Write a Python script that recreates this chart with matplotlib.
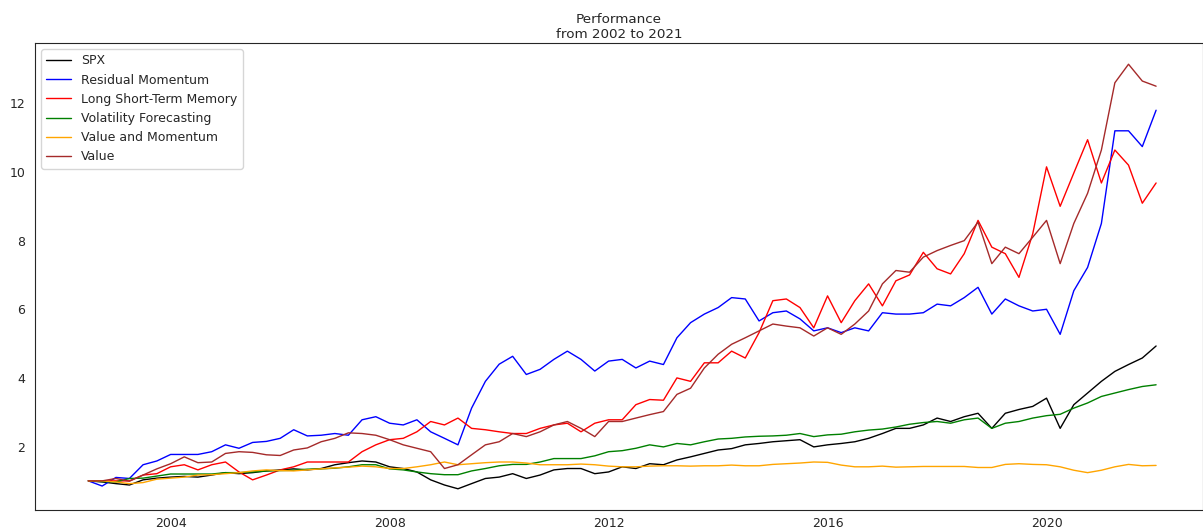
import matplotlib
matplotlib.use("Agg")
import matplotlib.pyplot as plt
import seaborn as sns
import pandas as pd

sns.set_style("white")
plt.rcParams["font.size"] = 9

dates = pd.date_range("2002-07-01", "2022-01-01", freq="QS")

spx = [1.00, 0.97, 0.92, 0.88, 1.03, 1.08, 1.11, 1.13, 1.11, 1.17,
       1.24, 1.21, 1.24, 1.29, 1.32, 1.35, 1.32, 1.36, 1.47, 1.53,
       1.58, 1.55, 1.41, 1.36, 1.26, 1.03, 0.88, 0.77, 0.92, 1.07,
       1.11, 1.21, 1.07, 1.17, 1.32, 1.36, 1.36, 1.21, 1.26, 1.41,
       1.36, 1.50, 1.47, 1.61, 1.70, 1.80, 1.90, 1.94, 2.05, 2.09,
       2.14, 2.17, 2.20, 1.99, 2.05, 2.09, 2.14, 2.24, 2.38, 2.53,
       2.53, 2.63, 2.83, 2.73, 2.87, 2.97, 2.53, 2.97, 3.08, 3.17,
       3.41, 2.53, 3.22, 3.56, 3.90, 4.19, 4.39, 4.58, 4.93]

residual_momentum = [1.00, 0.85, 1.10, 1.07, 1.47, 1.58, 1.77, 1.77, 1.77, 1.85,
                     2.05, 1.95, 2.12, 2.15, 2.24, 2.49, 2.31, 2.33, 2.38, 2.33,
                     2.78, 2.87, 2.68, 2.63, 2.78, 2.43, 2.24, 2.05, 3.12, 3.90,
                     4.40, 4.63, 4.10, 4.25, 4.54, 4.78, 4.54, 4.20, 4.49, 4.54,
                     4.29, 4.49, 4.39, 5.17, 5.61, 5.86, 6.05, 6.34, 6.30, 5.66,
                     5.90, 5.95, 5.72, 5.37, 5.46, 5.32, 5.46, 5.37, 5.90, 5.86,
                     5.86, 5.90, 6.15, 6.10, 6.34, 6.64, 5.86, 6.30, 6.10, 5.95,
                     6.00, 5.27, 6.54, 7.22, 8.50, 11.20, 11.20, 10.74, 11.80]

lstm = [1.00, 1.00, 1.00, 1.00, 1.17, 1.21, 1.41, 1.47, 1.32, 1.47,
        1.55, 1.26, 1.03, 1.17, 1.32, 1.41, 1.55, 1.55, 1.55, 1.55,
        1.85, 2.05, 2.20, 2.24, 2.43, 2.73, 2.63, 2.83, 2.53, 2.49,
        2.43, 2.38, 2.38, 2.53, 2.63, 2.68, 2.43, 2.68, 2.78, 2.78,
        3.22, 3.37, 3.35, 4.00, 3.90, 4.44, 4.44, 4.78, 4.58, 5.32,
        6.25, 6.30, 6.05, 5.46, 6.39, 5.61, 6.25, 6.74, 6.10, 6.83,
        7.00, 7.66, 7.18, 7.03, 7.62, 8.59, 7.81, 7.62, 6.93, 8.20,
        10.15, 9.00, 9.97, 10.94, 9.68, 10.64, 10.20, 9.09, 9.68]

vol_forecasting = [1.00, 0.98, 0.97, 1.07, 1.08, 1.14, 1.20, 1.20, 1.20, 1.20,
                   1.24, 1.24, 1.26, 1.29, 1.30, 1.31, 1.34, 1.35, 1.37, 1.41,
                   1.47, 1.47, 1.35, 1.32, 1.26, 1.21, 1.18, 1.18, 1.29, 1.36,
                   1.44, 1.48, 1.48, 1.55, 1.65, 1.65, 1.65, 1.73, 1.85, 1.88,
                   1.95, 2.05, 1.99, 2.09, 2.05, 2.14, 2.22, 2.24, 2.28, 2.30,
                   2.31, 2.33, 2.38, 2.29, 2.34, 2.36, 2.43, 2.48, 2.51, 2.57,
                   2.65, 2.70, 2.73, 2.68, 2.78, 2.83, 2.53, 2.68, 2.73, 2.83,
                   2.90, 2.94, 3.12, 3.27, 3.46, 3.56, 3.66, 3.75, 3.80]

value_momentum = [1.00, 1.00, 0.97, 0.92, 0.95, 1.05, 1.08, 1.11, 1.17, 1.18,
                  1.21, 1.24, 1.29, 1.32, 1.30, 1.29, 1.32, 1.35, 1.38, 1.40,
                  1.43, 1.41, 1.36, 1.36, 1.41, 1.47, 1.55, 1.47, 1.50, 1.53,
                  1.55, 1.55, 1.52, 1.47, 1.47, 1.47, 1.49, 1.47, 1.43, 1.41,
                  1.41, 1.43, 1.44, 1.44, 1.43, 1.44, 1.44, 1.46, 1.44, 1.44,
                  1.48, 1.50, 1.52, 1.55, 1.54, 1.46, 1.41, 1.41, 1.43, 1.40,
                  1.41, 1.42, 1.42, 1.42, 1.42, 1.39, 1.39, 1.48, 1.50, 1.48,
                  1.47, 1.41, 1.31, 1.24, 1.31, 1.41, 1.48, 1.44, 1.45]

value = [1.00, 1.00, 1.07, 0.99, 1.17, 1.35, 1.50, 1.70, 1.53, 1.55,
         1.80, 1.85, 1.83, 1.76, 1.74, 1.90, 1.96, 2.14, 2.24, 2.40,
         2.38, 2.33, 2.20, 2.05, 1.95, 1.85, 1.36, 1.47, 1.76, 2.05,
         2.14, 2.38, 2.29, 2.43, 2.63, 2.73, 2.53, 2.29, 2.73, 2.73,
         2.83, 2.93, 3.02, 3.52, 3.70, 4.29, 4.69, 4.98, 5.17, 5.37,
         5.57, 5.51, 5.46, 5.22, 5.46, 5.27, 5.57, 5.95, 6.74, 7.13,
         7.08, 7.52, 7.71, 7.86, 8.00, 8.54, 7.33, 7.81, 7.62, 8.10,
         8.59, 7.33, 8.50, 9.38, 10.64, 12.60, 13.14, 12.65, 12.50]

series = [
    ("SPX", spx, "black"),
    ("Residual Momentum", residual_momentum, "blue"),
    ("Long Short-Term Memory", lstm, "red"),
    ("Volatility Forecasting", vol_forecasting, "green"),
    ("Value and Momentum", value_momentum, "orange"),
    ("Value", value, "brown"),
]

fig = plt.figure(figsize=(12.03, 5.29), dpi=100)
ax = fig.add_axes([35 / 1203, 19 / 529, 1168 / 1203, 467 / 529])

for name, vals, color in series:
    ax.plot(dates, vals, color=color, lw=1, label=name)

ax.set_xlim(pd.Timestamp("2001-07-10"), pd.Timestamp("2022-11-10"))
ax.tick_params(axis="x", pad=1.5)
ax.set_title("Performance\nfrom 2002 to 2021", fontsize=9.7, pad=3.5)
ax.legend(loc="upper left")

fig.savefig("out.png", dpi=100)
